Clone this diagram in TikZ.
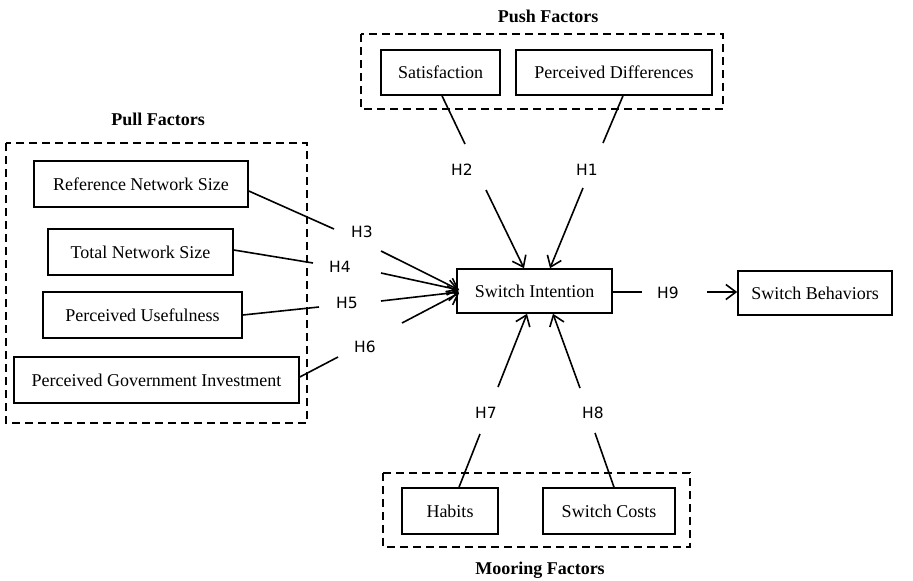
\documentclass[tikz,border=0pt]{standalone}
\usepackage{fontspec}
\setmainfont{Liberation Serif}
\newfontfamily\hypfont{DejaVu Sans}
\usetikzlibrary{arrows.meta,calc}

\begin{document}
\begin{tikzpicture}[x=1pt,y=-1pt,
  factor/.style={draw,line width=1.6pt,inner sep=0pt,font=\fontsize{18}{21}\selectfont},
  group/.style={draw,line width=1.5pt,dash pattern=on 8pt off 5pt},
  title/.style={font=\fontsize{18}{21}\selectfont\bfseries},
  hyp/.style={font=\hypfont\fontsize{15.5}{18}\selectfont},
  link/.style={line width=1.6pt},
  arr/.style={line width=1.6pt,-{Straight Barb[length=10pt,width=15pt,line width=1.6pt]}}]
\useasboundingbox (0,0) rectangle (913,581);

% factor groups
\draw[group] (6,143) rectangle (307,423);
\draw[group] (361,34) rectangle (723,109);
\draw[group] (383,473) rectangle (690,547);
\node[title] (tpull) at (158,119) {Pull Factors};
\node[title] (tpush) at (548,16) {Push Factors};
\node[title] (tmoor) at (540,570) {Mooring Factors};

% constructs
\node[factor,minimum width=214pt,minimum height=46pt] (rns) at (141,184) {Reference Network Size};
\node[factor,minimum width=185pt,minimum height=46pt] (tns) at (140.5,252) {Total Network Size};
\node[factor,minimum width=199pt,minimum height=46pt] (pu) at (142.5,315) {Perceived Usefulness};
\node[factor,minimum width=285pt,minimum height=46pt] (pgi) at (156.5,380) {Perceived Government Investment};
\node[factor,minimum width=155pt,minimum height=44pt] (si) at (534.5,291) {Switch Intention};
\node[factor,minimum width=154pt,minimum height=44pt] (sb) at (815,293) {Switch Behaviors};
\node[factor,minimum width=119pt,minimum height=45pt] (sat) at (440.5,72.5) {Satisfaction};
\node[factor,minimum width=196pt,minimum height=45pt] (pd) at (614,72.5) {Perceived Differences};
\node[factor,minimum width=96pt,minimum height=46pt] (hab) at (450,511) {Habits};
\node[factor,minimum width=132pt,minimum height=46pt] (sc) at (609,511) {Switch Costs};

% hypothesis labels
\node[hyp] (h1) at (587,170) {H1};
\node[hyp] (h2) at (462,170) {H2};
\node[hyp] (h3) at (362,232) {H3};
\node[hyp] (h4) at (340,267) {H4};
\node[hyp] (h5) at (347,303) {H5};
\node[hyp] (h6) at (365,347) {H6};
\node[hyp] (h7) at (486,413) {H7};
\node[hyp] (h8) at (593,413) {H8};
\node[hyp] (h9) at (668,293) {H9};

% path break points around the labels
\coordinate (a1) at (603,143); \coordinate (b1) at (583,188);
\coordinate (a2) at (465,144); \coordinate (b2) at (486,190);
\coordinate (a3) at (334,229); \coordinate (b3) at (381,251);
\coordinate (a4) at (313,263); \coordinate (b4) at (381,273);
\coordinate (a5) at (319,307); \coordinate (b5) at (381,301);
\coordinate (a6) at (338,357); \coordinate (b6) at (402,323);
\coordinate (a7) at (480,434); \coordinate (b7) at (498,387);
\coordinate (a8) at (595,433); \coordinate (b8) at (580,388);
\coordinate (a9) at (642,292); \coordinate (b9) at (707,292);

% push paths
\draw[link] ($(pd.south)+(9,0)$) -- (a1);
\draw[arr] (b1) -- ($(si.north)+(15.5,0)$);
\draw[link] ($(sat.south)+(1.5,0)$) -- (a2);
\draw[arr] (b2) -- ($(si.north)+(-10.5,0)$);

% pull paths
\draw[link] ($(rns.east)+(0,7)$) -- (a3);
\draw[arr] (b3) -- ($(si.west)+(3,-1)$);
\draw[link] ($(tns.east)+(0,-2)$) -- (a4);
\draw[arr] (b4) -- ($(si.west)+(3,-1)$);
\draw[link] (pu.east) -- (a5);
\draw[arr] (b5) -- ($(si.west)+(3,1)$);
\draw[link] ($(pgi.east)+(0,-3)$) -- (a6);
\draw[arr] (b6) -- ($(si.west)+(3,2)$);

% mooring paths
\draw[link] ($(hab.north)+(9,0)$) -- (a7);
\draw[arr] (b7) -- ($(si.south)+(-7.5,0)$);
\draw[link] ($(sc.north)+(5,0)$) -- (a8);
\draw[arr] (b8) -- ($(si.south)+(18.5,0)$);

% outcome path
\draw[link] (si.east |- a9) -- (a9);
\draw[arr] (b9) -- (sb.west |- b9);
\end{tikzpicture}
\end{document}
